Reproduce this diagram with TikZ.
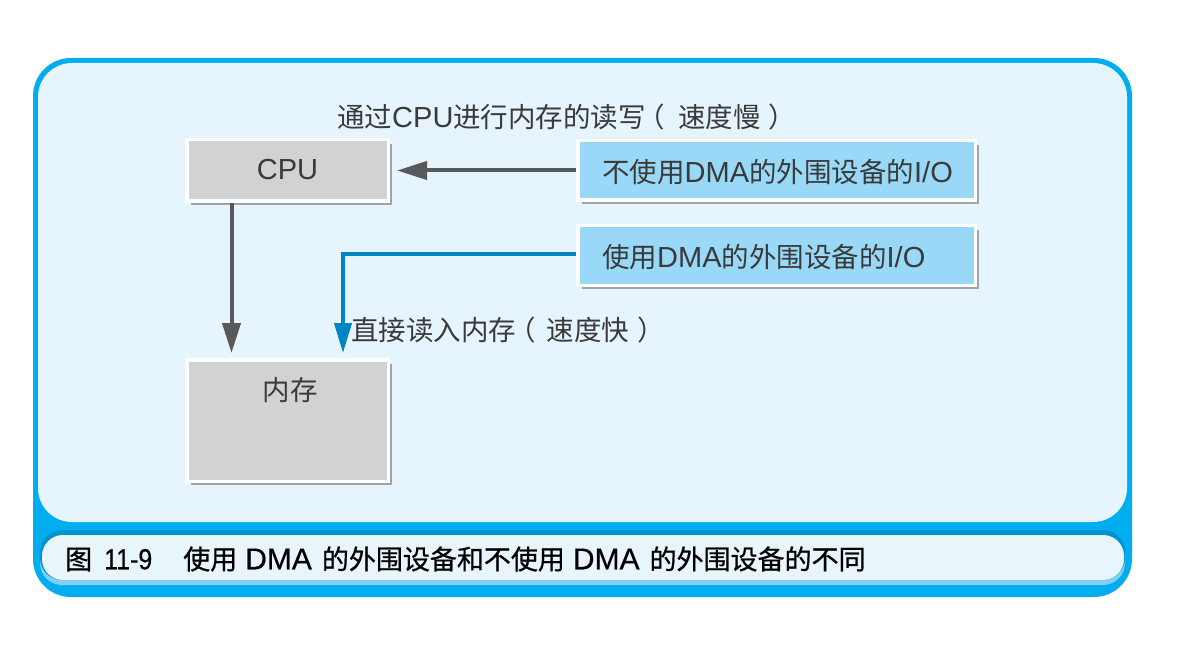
\documentclass[tikz,border=0pt]{standalone}
\usepackage{fontspec}
\setmainfont{Noto Sans CJK SC}
\newfontfamily\capfont{Noto Sans CJK SC}[FakeBold=0.7]
\newfontfamily\latfont{Liberation Sans}[Scale=1.055]
\newfontfamily\caplatfont{Liberation Sans}[FakeBold=0.5]
\newfontfamily\capnumfont{Liberation Sans}[FakeBold=0.5, FakeStretch=0.86]
\newcommand\latw[1]{{\latfont #1}}
\newcommand\caplat[2]{{\caplatfont\fontsize{#1}{30}\selectfont #2}}
\usetikzlibrary{arrows.meta}
\definecolor{frameblue}{HTML}{00AEEF}
\definecolor{panel}{HTML}{E6F5FD}
\definecolor{cappanel}{HTML}{E8F6FC}
\definecolor{capdark}{HTML}{0093CF}
\definecolor{capstripe}{HTML}{7FD0F4}
\definecolor{boxgray}{HTML}{D1D2D4}
\definecolor{shadowgray}{HTML}{A2A4A7}
\definecolor{iobox}{HTML}{99D9F7}
\definecolor{txt}{HTML}{3A3A3A}
\definecolor{arrowgray}{HTML}{58595B}
\definecolor{arrowblue}{HTML}{0085C3}
\tikzset{
  shadowed/.style={preaction={fill=shadowgray, draw=none, transform canvas={xshift=4pt,yshift=-4pt}}},
  graybox/.style={shadowed, rectangle, draw=white, line width=3.5pt, fill=boxgray, minimum width=201.5pt, inner sep=0pt},
  bluebox/.style={shadowed, rectangle, draw=white, line width=3.5pt, fill=iobox, minimum width=397.5pt, minimum height=59.5pt, inner sep=0pt},
  lbl/.style={text=txt, font=\fontsize{27.5}{30}\selectfont, inner sep=0pt},
  grayarrow/.style={draw=arrowgray, line width=4pt, -{Triangle[length=30pt,width=18pt]}},
  bluearrow/.style={draw=arrowblue, line width=4pt, -{Triangle[length=30pt,width=17pt]}}
}
\begin{document}
\begin{tikzpicture}[x=1pt,y=-1pt]
\useasboundingbox (0,0) rectangle (1196,660);
% frame
\fill[frameblue, rounded corners=38pt] (33,58) rectangle (1132,597);
\fill[panel, rounded corners=34pt] (38,63) rectangle (1127,522);
% caption panel
\fill[capstripe, rounded corners=22pt] (40,532) rectangle (1125,585);
\fill[capdark, rounded corners=22pt] (40,530) rectangle (1125,580);
\fill[cappanel, rounded corners=21pt] (42,535) rectangle (1124,580);
\node[anchor=west, inner sep=0pt, text=black, font=\capfont\fontsize{27}{30}\selectfont] (cap) at (65,559)
  {图\hspace{12pt}{\capnumfont\fontsize{29}{30}\selectfont 11-9}\hspace{31pt}使用\hspace{8pt}\caplat{30}{DMA}\hspace{10pt}的外围设备和不使用\hspace{8pt}\caplat{30}{DMA}\hspace{10pt}的外围设备的不同};
% boxes
\node[graybox, minimum height=61.5pt] (cpu) at (287.5,170.5) {};
\node[lbl] (cputxt) at (287.5,170) {\latw{CPU}};
\node[graybox, minimum height=121.5pt] (mem) at (287.5,420.5) {};
\node[lbl] (memtxt) at (290,390) {内存};
\node[bluebox] (b1) at (776.5,170.5) {};
\node[lbl, anchor=west] (b1txt) at (602,172) {不使用\latw{DMA}的外围设备的\latw{I/O}};
\node[bluebox] (b2) at (776.5,255.5) {};
\node[lbl, anchor=west] (b2txt) at (602,257) {使用\latw{DMA}的外围设备的\latw{I/O}};
% labels
\node[lbl, anchor=west] (slow) at (337,117) {通过\latw{CPU}进行内存的读写\hspace{-8pt}（\hspace{13pt}速度慢\hspace{8pt}）};
\node[lbl, anchor=west] (fast) at (351,330) {直接读入内存\hspace{-8pt}（\hspace{11pt}速度快\hspace{8pt}）};
% arrows
\draw[grayarrow, shorten >=7pt] (b1.west) -- (cpu.east);
\draw[grayarrow, shorten >=5pt] ([xshift=-56pt]cpu.south) -- ([xshift=-56pt]mem.north);
\draw[bluearrow, shorten >=5pt] ([yshift=1pt]b2.west) -| ([xshift=55.5pt]mem.north);
\end{tikzpicture}
\end{document}
